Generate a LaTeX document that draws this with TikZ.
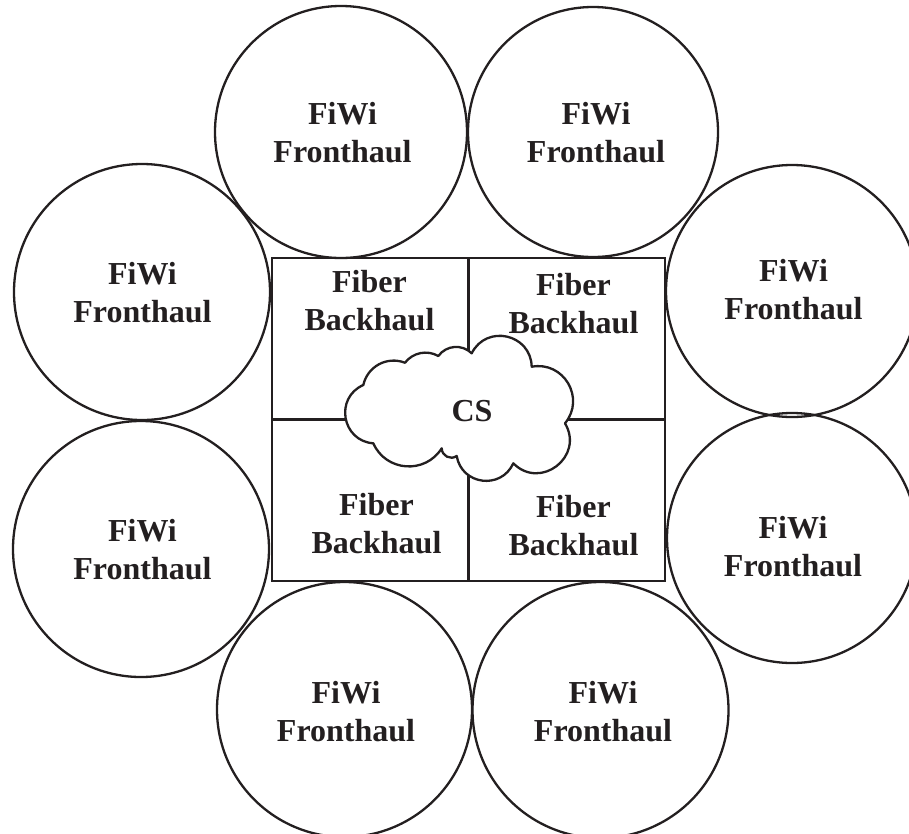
\documentclass[tikz,border=0pt]{standalone}
\usepackage{fontspec}
\setmainfont{Liberation Serif}
\definecolor{ink}{HTML}{231F20}
\tikzset{
  ring/.style={circle, draw=ink, line width=2.3pt, inner sep=0pt, outer sep=0pt},
  lbl/.style={font=\fontsize{32}{38}\selectfont\bfseries, align=center, inner sep=0pt, text=ink},
  boxline/.style={draw=ink, line width=2.6pt},
  cloudline/.style={draw=ink, fill=white, line width=2.3pt, line join=round},
}
\begin{document}
\begin{tikzpicture}[x=1pt,y=1pt]
\clip (0,0) rectangle (909,-833);
% outer circles
\node[ring, minimum size=252pt] (c1) at (341,-132) {};
\node[ring, minimum size=250pt] (c2) at (593,-132) {};
\node[ring, minimum size=256pt] (c3) at (142,-292) {};
\node[ring, minimum size=252pt] (c4) at (792,-291) {};
\node[ring, minimum size=256pt] (c5) at (141,-549) {};
\node[ring, minimum size=250pt] (c6) at (792,-538) {};
\node[ring, minimum size=255pt] (c7) at (344.5,-709.5) {};
\node[ring, minimum size=256pt] (c8) at (600.5,-710) {};
\node[lbl] (t1) at (342.5,-133) {FiWi\\Fronthaul};
\node[lbl] (t2) at (596,-133) {FiWi\\Fronthaul};
\node[lbl] (t3) at (142.5,-293) {FiWi\\Fronthaul};
\node[lbl] (t4) at (793.5,-290) {FiWi\\Fronthaul};
\node[lbl] (t5) at (142.5,-549.5) {FiWi\\Fronthaul};
\node[lbl] (t6) at (793,-546.5) {FiWi\\Fronthaul};
\node[lbl] (t7) at (346,-712) {FiWi\\Fronthaul};
\node[lbl] (t8) at (603,-712) {FiWi\\Fronthaul};
% central box
\node[boxline, rectangle, minimum width=393pt, minimum height=323pt, inner sep=0pt, outer sep=0pt] (box) at (468.5,-419.5) {};
\draw[boxline] (box.north) -- (box.south);
\draw[boxline] (box.west) -- (box.east);
\node[lbl] (fb1) at (369.5,-301) {Fiber\\Backhaul};
\node[lbl] (fb2) at (573.5,-303.5) {Fiber\\Backhaul};
\node[lbl] (fb3) at (376.5,-523.5) {Fiber\\Backhaul};
\node[lbl] (fb4) at (573.5,-525.5) {Fiber\\Backhaul};
% cloud
\coordinate (k1) at (363.3,-385);
\coordinate (k2) at (405,-362.7);
\coordinate (k3) at (438.3,-356);
\coordinate (k4) at (471.7,-353.3);
\coordinate (k5) at (531.7,-366.7);
\coordinate (k6) at (565,-423.3);
\coordinate (k7) at (513.3,-463.3);
\coordinate (k8) at (456.7,-456);
\coordinate (k9) at (441.7,-448.3);
\coordinate (k10) at (373.3,-443.3);
\path[cloudline] (k1)
  to[bend left=49, looseness=1.04] (k2)
  to[bend left=41, looseness=0.97] (k3)
  to[bend left=49, looseness=1.04] (k4)
  to[bend left=76, looseness=1.37] (k5)
  to[bend left=70, looseness=1.27] (k6)
  to[bend left=83, looseness=1.51] (k7)
  to[bend left=73, looseness=1.32] (k8)
  to[bend left=62, looseness=1.16] (k9)
  to[bend left=62, looseness=1.16] (k10)
  to[bend left=76, looseness=1.37] (k1) -- cycle;
\node[lbl] (cs) at (472,-411.5) {CS};
\end{tikzpicture}
\end{document}
